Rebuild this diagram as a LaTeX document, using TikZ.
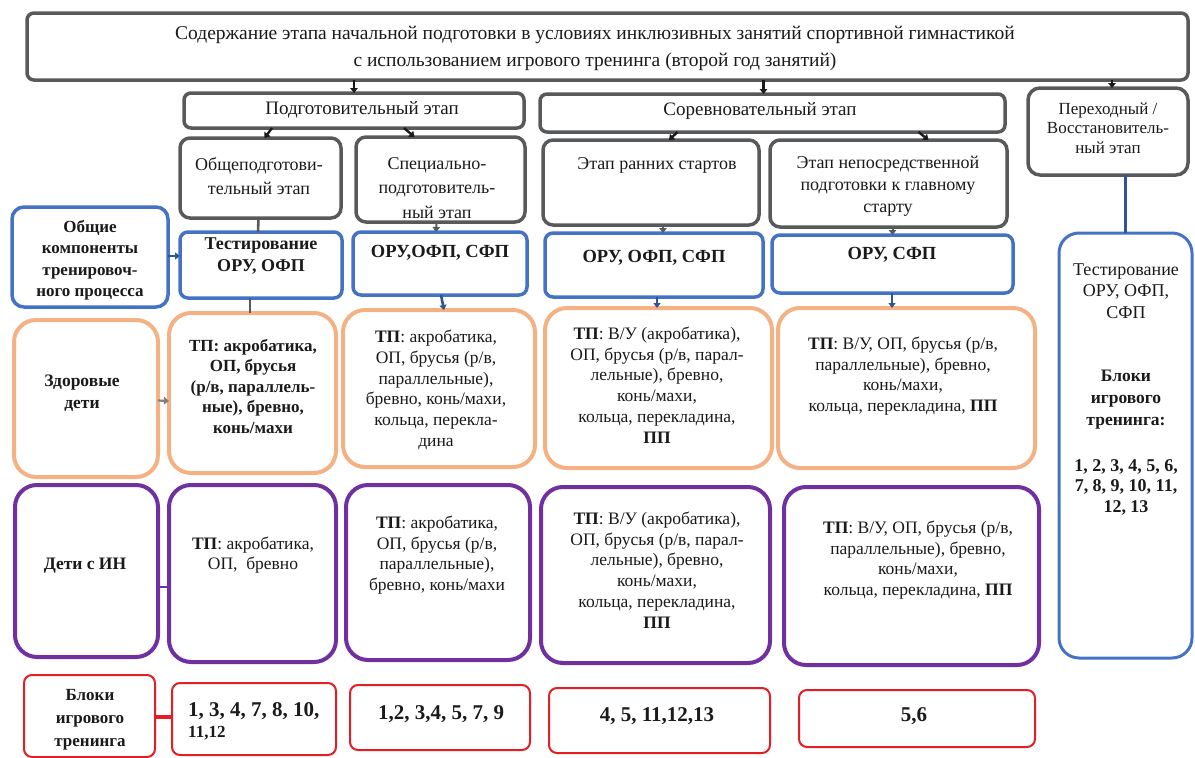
\documentclass[tikz,border=0pt]{standalone}
\usepackage{fontspec}
\setmainfont{Liberation Serif}
\usetikzlibrary{arrows.meta,calc}

\definecolor{frameGray}{HTML}{58595B}
\definecolor{frameBlue}{HTML}{4472C4}
\definecolor{frameOrange}{HTML}{F4B183}
\definecolor{framePurple}{HTML}{7030A0}
\definecolor{frameRed}{HTML}{E31E24}
\definecolor{linkBlue}{HTML}{2F5597}
\definecolor{inkBlack}{HTML}{1A1A1A}

\tikzset{
  frame/.style={draw, fill=white, inner sep=0pt, outer sep=0pt},
  gbox/.style={frame, draw=frameGray, line width=3.5pt, rounded corners=10pt},
  bbox/.style={frame, draw=frameBlue, line width=3.5pt, rounded corners=8pt},
  obox/.style={frame, draw=frameOrange, line width=4pt, rounded corners=22pt},
  pbox/.style={frame, draw=framePurple, line width=4pt, rounded corners=22pt},
  rbox/.style={frame, draw=frameRed, line width=2pt, rounded corners=8pt},
  txt/.style={align=center, inner sep=0pt, text=inkBlack, font=\fontsize{17.5}{20.7}\selectfont},
  graytxt/.style={txt, font=\fontsize{18}{24.5}\selectfont},
  headtxt/.style={txt, font=\bfseries\fontsize{17}{21.5}\selectfont},
  bluetxt/.style={txt, font=\bfseries\fontsize{18.5}{22}\selectfont},
  numtxt/.style={txt, font=\bfseries\fontsize{21}{24}\selectfont},
  arrowlink/.style={draw=inkBlack, line width=2.4pt, -{Triangle[length=5pt,width=7.5pt]}},
  bluelink/.style={draw=linkBlue, line width=2.6pt, -{Triangle[length=5pt,width=7pt]}},
  plainlink/.style={line width=2.6pt},
}

% a framed box given by its corners: name, style, x1, y1, x2, y2
\newcommand\placebox[6]{%
  \node[#2, minimum width=#5pt-#3pt, minimum height=#6pt-#4pt]
    (#1) at ({(#3+#5)/2},{(#4+#6)/2}) {};}

\begin{document}
\begin{tikzpicture}[x=1pt,y=-1pt]
\useasboundingbox (0,0) rectangle (1195,758);

% ---------- title and stages ----------
\placebox{top}{gbox, rounded corners=7pt}{27}{13}{1188}{80}
\node[txt, font=\fontsize{19.5}{27}\selectfont] (top-t) at (595,48.5)
  {Содержание этапа начальной подготовки в условиях инклюзивных занятий спортивной гимнастикой\\
   с использованием игрового тренинга (второй год занятий)};

\placebox{prep}{gbox, rounded corners=7pt}{184}{93}{524}{128}
\node[txt, font=\fontsize{19}{21}\selectfont] (prep-t) at (362,110) {Подготовительный этап};

\placebox{comp}{gbox, rounded corners=7pt}{540}{94}{1005}{132}
\node[txt, font=\fontsize{19}{21}\selectfont] (comp-t) at (760,111) {Соревновательный этап};

\placebox{trans}{gbox, rounded corners=12pt}{1028}{88}{1188}{175}
\node[txt, font=\fontsize{17}{19.5}\selectfont] (trans-t) at (1108,128)
  {Переходный /\\Восстановитель-\\ный этап};

% ---------- sub-stages ----------
\placebox{gen}{gbox}{180}{138}{341}{218}
\node[graytxt] (gen-t) at (259,176) {Общеподготови-\\тельный этап};

\placebox{spec}{gbox}{356}{137}{525}{222}
\node[graytxt] (spec-t) at (437,188) {Специально-\\подготовитель-\\ный этап};

\placebox{early}{gbox}{543}{140}{759}{225}
\node[graytxt] (early-t) at (657,165) {Этап ранних стартов};

\placebox{main}{gbox}{770}{140}{1007}{227}
\node[graytxt, font=\fontsize{18}{22}\selectfont] (main-t) at (888,186)
  {Этап непосредственной\\подготовки к главному\\старту};

% ---------- common components ----------
\placebox{common}{bbox, rounded corners=12pt}{12}{207}{168}{307}
\node[headtxt] (common-t) at (90,260) {Общие\\компоненты\\тренировоч-\\ного процесса};

\placebox{cgen}{bbox}{180}{232}{342}{298}
\node[bluetxt, font=\bfseries\fontsize{18}{22}\selectfont] (cgen-t) at (261,256) {Тестирование\\ОРУ, ОФП};

\placebox{cspec}{bbox}{353}{232}{527}{295}
\node[bluetxt] (cspec-t) at (440,253) {ОРУ,ОФП, СФП};

\placebox{cearly}{bbox}{545}{233}{763}{297}
\node[bluetxt] (cearly-t) at (654,258) {ОРУ, ОФП, СФП};

\placebox{cmain}{bbox}{772}{235}{1013}{293}
\node[bluetxt] (cmain-t) at (892,255) {ОРУ, СФП};

\placebox{ctrans}{frame, draw=frameBlue, line width=3pt, rounded corners=20pt}{1059}{233}{1192}{658}
\node[txt, font=\fontsize{18}{21.5}\selectfont] (ctrans-a) at (1126,291)
  {Тестирование\\ОРУ, ОФП,\\СФП};
\node[headtxt, font=\bfseries\fontsize{17.5}{22}\selectfont] (ctrans-b) at (1126,400)
  {Блоки\\игрового\\тренинга:};
\node[headtxt, font=\bfseries\fontsize{18}{20.5}\selectfont] (ctrans-c) at (1126,487)
  {1, 2, 3, 4, 5, 6,\\7, 8, 9, 10, 11,\\12, 13};

% ---------- healthy children ----------
\placebox{healthy}{obox}{14}{320}{158}{477}
\node[headtxt, font=\bfseries\fontsize{17.5}{21.5}\selectfont] (healthy-t) at (82,393) {Здоровые\\дети};

\placebox{hgen}{obox}{169}{313}{336}{473}
\node[txt, font=\bfseries\fontsize{17}{20.5}\selectfont] (hgen-t) at (253,386)
  {ТП: акробатика,\\ОП, брусья\\(р/в, параллель-\\ные), бревно,\\конь/махи};

\placebox{hspec}{obox}{343}{310}{535}{467}
\node[txt] (hspec-t) at (436,390)
  {\textbf{ТП}: акробатика,\\ОП, брусья (р/в,\\параллельные),\\бревно, конь/махи,\\кольца, перекла-\\дина};

\placebox{hearly}{obox}{545}{308}{772}{468}
\node[txt] (hearly-t) at (657,385)
  {\textbf{ТП}: В/У (акробатика),\\ОП, брусья (р/в, парал-\\лельные), бревно,\\конь/махи,\\кольца, перекладина,\\\textbf{ПП}};

\placebox{hmain}{obox}{778}{308}{1035}{468}
\node[txt] (hmain-t) at (903,376)
  {\textbf{ТП}: В/У, ОП, брусья (р/в,\\параллельные), бревно,\\конь/махи,\\кольца, перекладина, \textbf{ПП}};

% ---------- children with intellectual disability ----------
\placebox{ind}{pbox}{15}{485}{158}{657}
\node[headtxt, font=\bfseries\fontsize{17.5}{21.5}\selectfont] (ind-t) at (85,566) {Дети с ИН};

\placebox{igen}{pbox}{169}{485}{336}{662}
\node[txt] (igen-t) at (253,555) {\textbf{ТП}: акробатика,\\ОП,~~бревно};

\placebox{ispec}{pbox}{346}{485}{530}{660}
\node[txt] (ispec-t) at (437,555)
  {\textbf{ТП}: акробатика,\\ОП, брусья (р/в,\\параллельные),\\бревно, конь/махи};

\placebox{iearly}{pbox}{541}{487}{770}{663}
\node[txt] (iearly-t) at (657,570)
  {\textbf{ТП}: В/У (акробатика),\\ОП, брусья (р/в, парал-\\лельные), бревно,\\конь/махи,\\кольца, перекладина,\\\textbf{ПП}};

\placebox{imain}{pbox}{784}{487}{1039}{665}
\node[txt] (imain-t) at (918,560)
  {\textbf{ТП}: В/У, ОП, брусья (р/в,\\параллельные), бревно,\\конь/махи,\\кольца, перекладина, \textbf{ПП}};

% ---------- game training blocks ----------
\placebox{game}{rbox}{24}{675}{155}{757}
\node[headtxt, font=\bfseries\fontsize{17}{23}\selectfont] (game-t) at (90,720)
  {Блоки\\игрового\\тренинга};

\placebox{ggen}{rbox}{172}{683}{336}{755}
\node[txt, align=left, anchor=west] (ggen-t) at (188,721)
  {{\bfseries\fontsize{21}{26}\selectfont 1, 3, 4, 7, 8, 10,}\\
   {\bfseries\fontsize{17}{21}\selectfont 11,12}};

\placebox{gspec}{rbox}{350}{685}{530}{750}
\node[numtxt] (gspec-t) at (441,714) {1,2, 3,4, 5, 7, 9};

\placebox{gearly}{rbox}{549}{688}{770}{753}
\node[numtxt] (gearly-t) at (657,716) {4, 5, 11,12,13};

\placebox{gmain}{rbox}{799}{690}{1035}{747}
\node[numtxt] (gmain-t) at (914,716) {5,6};

% ---------- connectors ----------
\draw[arrowlink] (top.south -| prep.north) -- (prep.north);
\draw[arrowlink] ($(top.south -| comp.north)+(-9,0)$) -- ($(comp.north)+(-9,0)$);
\draw[arrowlink] ($(top.south -| trans.north)+(4,0)$) -- ($(trans.north)+(4,0)$);

\draw[arrowlink] ($(prep.south)+(-82,0)$) -- ($(gen.north)+(4,0)$);
\draw[arrowlink] ($(prep.south)+(50,0)$) -- ($(spec.north)+(-26,0)$);
\draw[arrowlink] ($(comp.south)+(-95,0)$) -- ($(early.north)+(18,0)$);
\draw[arrowlink] ($(comp.south)+(146,0)$) -- ($(main.north)+(40,0)$);

\draw[plainlink, draw=frameGray] ($(gen.south)+(-2,0)$) -- ($(cgen.north)+(-3,0)$);
\draw[arrowlink, draw=frameGray, line width=2pt] ($(spec.south)+(-4,0)$) -- ($(cspec.north)+(-4,0)$);
\draw[arrowlink, draw=frameGray, line width=2pt] ($(early.south)+(12,0)$) -- ($(cearly.north)+(9,0)$);
\draw[arrowlink, draw=frameGray, line width=2pt] ($(main.south)+(4,0)$) -- ($(cmain.north)+(0,0)$);

\draw[bluelink] (common.east |- cgen-t) -- (cgen.west |- cgen-t);
\draw[plainlink, draw=linkBlue, line width=3pt] ($(trans.south)+(17,0)$) -- ($(ctrans.north)+(-0.5,0)$);

\draw[plainlink, draw=frameGray] ($(cgen.south)+(-11,0)$) -- ($(hgen.north)+(-2.5,0)$);
\draw[bluelink] ($(cspec.south)+(1,0)$) -- ($(hspec.north)+(5,0)$);
\draw[bluelink] ($(cearly.south)+(3,0)$) -- ($(hearly.north)+(-1.5,0)$);
\draw[bluelink] ($(cmain.south)+(-0.5,0)$) -- ($(hmain.north)+(-14.5,0)$);

\draw[arrowlink, draw=gray, line width=2.2pt] ($(healthy.east)+(0,2)$) -- ($(hgen.west)+(0,8)$);
\draw[plainlink, draw=framePurple] ($(ind.east)+(0,16)$) -- ($(igen.west)+(0,13.5)$);
\draw[plainlink, draw=frameRed, line width=3.5pt] ($(game.east)+(0,1)$) -- ($(ggen.west)+(0,-2)$);

\end{tikzpicture}
\end{document}
